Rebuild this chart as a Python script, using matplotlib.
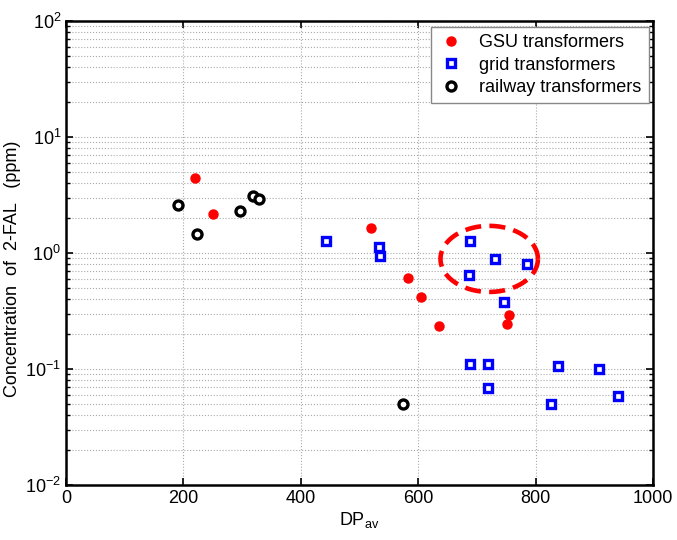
import matplotlib.pyplot as plt
import numpy as np

plt.rcParams['font.family'] = ['Liberation Sans', 'DejaVu Sans']
plt.rcParams['mathtext.fontset'] = 'custom'
plt.rcParams['mathtext.rm'] = 'Liberation Sans'
plt.rcParams['mathtext.it'] = 'Liberation Sans:italic'
plt.rcParams['mathtext.bf'] = 'Liberation Sans:bold'

# GSU transformers
gsu_dp = [219, 250, 519, 583, 604, 636, 755, 751]
gsu_fal = [4.46, 2.17, 1.65, 0.61, 0.42, 0.235, 0.294, 0.246]

# grid transformers
grid_dp = [443, 534, 535, 689, 687, 731, 786, 746, 689, 719, 838, 908, 719, 826, 941]
grid_fal = [1.27, 1.12, 0.94, 1.27, 0.64, 0.88, 0.80, 0.375, 0.11, 0.11, 0.107, 0.10, 0.069, 0.05, 0.059]

# railway transformers
rail_dp = [190, 223, 297, 318, 328, 574]
rail_fal = [2.6, 1.47, 2.31, 3.08, 2.92, 0.05]


def main():
    fig = plt.figure(figsize=(6.77, 5.4), dpi=100)
    ax = fig.add_axes([0.0975, 0.102, 0.867, 0.859])

    ax.semilogy(gsu_dp, gsu_fal, 'o', color='red', markersize=6.5,
                linestyle='none', label='GSU transformers')
    ax.semilogy(grid_dp, grid_fal, 's', markerfacecolor='white', markeredgecolor='blue',
                markeredgewidth=2.4, markersize=6, linestyle='none', label='grid transformers')
    ax.semilogy(rail_dp, rail_fal, 'o', markerfacecolor='white', markeredgecolor='black',
                markeredgewidth=2.4, markersize=6.5, linestyle='none', label='railway transformers')

    # dashed ellipse around the highlighted grid transformers
    t = np.linspace(0, 2 * np.pi, 200)
    ax.plot(721 + 83 * np.cos(t), 10 ** (-0.051 + 0.285 * np.sin(t)),
            color='red', linestyle=(0, (3.5, 1.8)), linewidth=3.3)

    ax.set_xlim(0, 1000)
    ax.set_ylim(1e-2, 1e2)
    ax.set_xticks([0, 200, 400, 600, 800, 1000])

    ax.grid(True, which='major', linestyle=':', color='#aaaaaa', linewidth=0.8)
    ax.grid(True, which='minor', axis='y', linestyle=':', color='#aaaaaa', linewidth=0.8)
    ax.tick_params(which='both', direction='in', top=True, right=True, labelsize=13)
    ax.tick_params(which='major', length=5, width=1.2)
    ax.tick_params(which='minor', length=3, width=1)
    for s in ax.spines.values():
        s.set_linewidth(1.8)

    ax.set_xlabel('DP$_{\\mathregular{av}}$', fontsize=13, labelpad=2)
    ax.set_ylabel('Concentration  of  2-FAL   (ppm)', fontsize=13)
    ax.yaxis.set_label_coords(-0.077, 0.465)

    leg = ax.legend(loc='upper right', bbox_to_anchor=(0.993, 0.987), borderaxespad=0,
                    fontsize=13, fancybox=False, framealpha=1,
                    edgecolor='#888888', handletextpad=0.8,
                    labelspacing=0.3, handlelength=1.5)
    leg.get_frame().set_linewidth(1)

    fig.savefig('out.png', dpi=100)


if __name__ == "__main__":
    main()
